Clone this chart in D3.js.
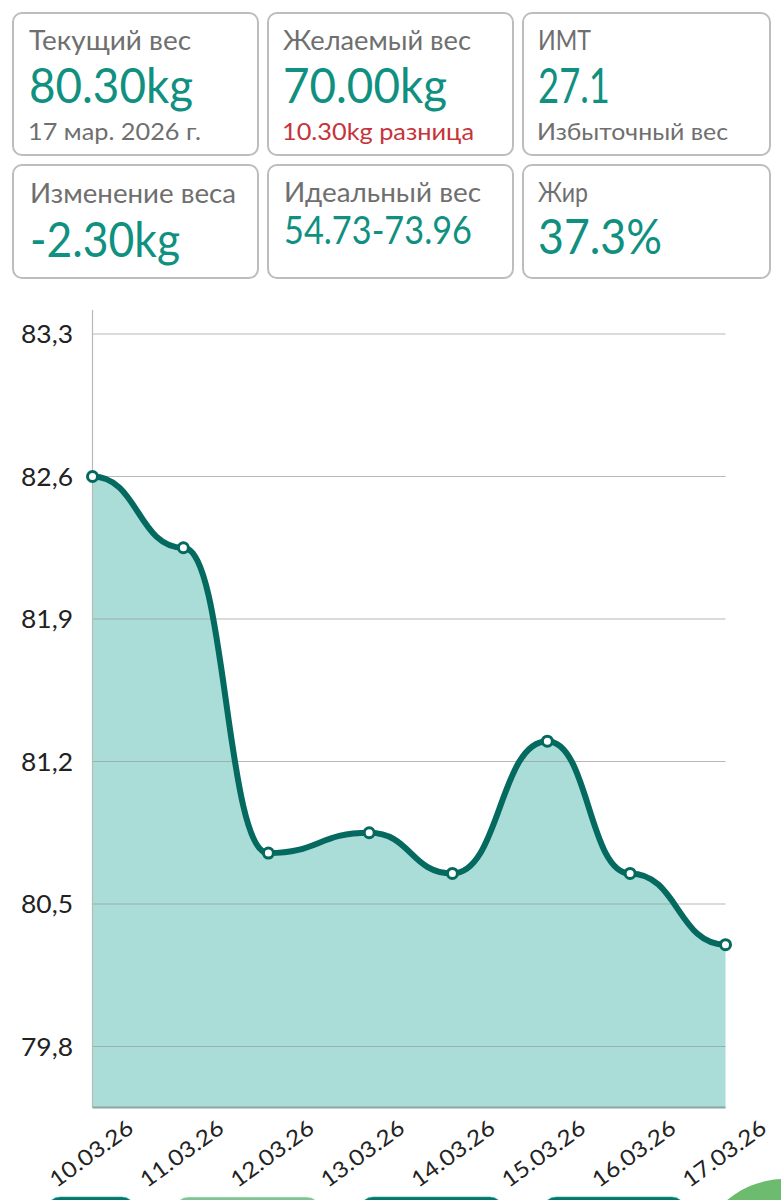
<!DOCTYPE html>
<html><head><meta charset="utf-8">
<script src="https://cdn.jsdelivr.net/npm/d3@7"></script>
<style>html,body{margin:0;padding:0;background:#fff}svg{display:block}text{font-family:Lato,"Noto Sans",sans-serif}</style>
</head><body><svg id="c" width="781" height="1200"></svg>
<script>
const tickDays=[10,11,12,13,14,15,16,17];
const tickLabels=["10.03.26","11.03.26","12.03.26","13.03.26","14.03.26","15.03.26","16.03.26","17.03.26"];
const measuredDays=[10,11.005,11.945,13.06,13.98,15.03,15.945,17];
const weights=[82.6,82.25,80.75,80.85,80.65,81.3,80.65,80.3];
const yTicks=[83.3,82.6,81.9,81.2,80.5,79.8];
const cardTitles=["Текущий вес","Желаемый вес","ИМТ","Изменение веса","Идеальный вес","Жир"];
const cardValues=["80.30kg","70.00kg","27.1","-2.30kg","54.73-73.96","37.3%"];
const cardNotes=["17 мар. 2026 г.","10.30kg разница","Избыточный вес","","",""];

const svg=d3.select("#c");
const teal="#0f9080",grey="#6f6f6f",red="#c7333a";
// cards
const cols=[13,268,523],cw=[245,245,247],rows=[[13,142],[165,113]];
const titleW=[162,188,53,206,197,50],titleX=[29,283,538,30,284,538],titleY=[50,50,50,203,202,202];
const valY=[103,103,103,257,244,254],valS=[48,48,48,48,39,48],valW=[164,164,72,150,188,124];
const noteW=[173,192,191,0,0,0];
cardTitles.forEach((t,i)=>{
  const c=i%3,r=i<3?0:1;
  svg.append("rect").attr("x",cols[c]).attr("y",rows[r][0]).attr("width",cw[c]).attr("height",rows[r][1]).attr("rx",9)
    .attr("fill","#fff").attr("stroke","#bdbdbd").attr("stroke-width",2);
  svg.append("text").attr("x",titleX[i]).attr("y",titleY[i]).attr("font-size",27).attr("fill",grey)
    .attr("textLength",titleW[i]).attr("lengthAdjust","spacingAndGlyphs").text(t);
  svg.append("text").attr("x",titleX[i]).attr("y",valY[i]).attr("font-size",valS[i]).attr("fill",teal)
    .attr("textLength",valW[i]).attr("lengthAdjust","spacingAndGlyphs").text(cardValues[i]);
  if(cardNotes[i]) svg.append("text").attr("x",titleX[i]-1).attr("y",140).attr("font-size",24)
    .attr("fill",i==1?red:grey).attr("textLength",noteW[i]).attr("lengthAdjust","spacingAndGlyphs").text(cardNotes[i]);
});
// chart
const x=d3.scaleLinear().domain([10,17]).range([92.5,725.5]);
const y=d3.scaleLinear().domain([79.8,83.3]).range([1046.5,334]);
const base=y(79.5);
const pts=measuredDays.map((d,i)=>[x(d),y(weights[i])]);
const area=d3.area().x(d=>d[0]).y0(base).y1(d=>d[1]).curve(d3.curveBumpX);
const line=d3.line().x(d=>d[0]).y(d=>d[1]).curve(d3.curveBumpX);
svg.append("path").attr("d",area(pts)).attr("fill","#aaddd7");
svg.append("g").selectAll("line").data(yTicks).join("line")
  .attr("x1",x(10)).attr("x2",x(17)).attr("y1",d=>y(d)).attr("y2",d=>y(d))
  .attr("stroke","#9a9a9a").attr("stroke-opacity",.7).attr("stroke-width",1.2);
svg.append("line").attr("x1",x(10)).attr("x2",x(10)).attr("y1",y(83.3)-24).attr("y2",base).attr("stroke","#b8b8b8").attr("stroke-width",1.2);
svg.append("line").attr("x1",x(10)).attr("x2",x(17)).attr("y1",base).attr("y2",base).attr("stroke","#8aa5a2").attr("stroke-width",2);
svg.append("path").attr("d",line(pts)).attr("fill","none").attr("stroke","#04695e").attr("stroke-width",6);
svg.append("g").selectAll("circle").data(pts).join("circle").attr("cx",d=>d[0]).attr("cy",d=>d[1]).attr("r",5)
  .attr("fill","#fff").attr("stroke","#04695e").attr("stroke-width",3);
svg.append("g").selectAll("text").data(yTicks).join("text").attr("x",73).attr("y",d=>y(d)+9).attr("text-anchor","end")
  .attr("font-size",25).attr("fill","#222").attr("textLength",52).attr("lengthAdjust","spacingAndGlyphs")
  .text(d=>d3.format(".1f")(d).replace(".",","));
svg.append("g").selectAll("text").data(tickDays).join("text")
  .attr("transform",d=>`translate(${x(d)+38},${1125}) rotate(-36)`).attr("text-anchor","end").attr("dy",".35em")
  .attr("font-size",22).attr("fill","#222").attr("textLength",97).attr("lengthAdjust","spacingAndGlyphs")
  .text((d,i)=>tickLabels[i]);
// cropped controls at bottom edge
const pills=[[47,88,"#0b7468"],[175,145,"#86c095"],[360,143,"#0b7468"],[543,142,"#0b7468"]];
pills.forEach(p=>svg.append("rect").attr("x",p[0]).attr("y",1197).attr("width",p[1]).attr("height",30).attr("rx",13)
  .attr("fill",p[2]).attr("stroke",d3.color(p[2]).brighter(1.2)).attr("stroke-opacity",.6).attr("stroke-width",1));
svg.append("circle").attr("cx",785).attr("cy",1269).attr("r",90).attr("fill","#6cbb6f");
</script></body></html>
